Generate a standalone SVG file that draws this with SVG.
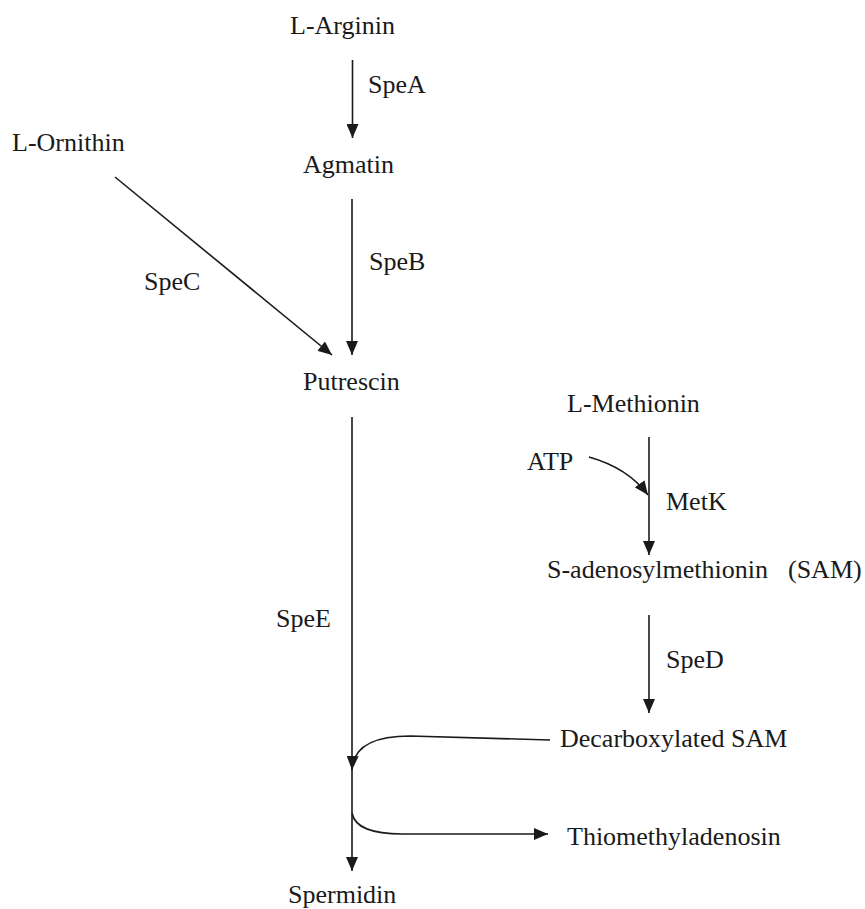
<svg xmlns="http://www.w3.org/2000/svg" width="865" height="909" viewBox="0 0 865 909">
  <style>
    text { font-family: "Liberation Serif", "Times New Roman", serif; font-size: 26px; fill: #1a1a1a; }
    .conn { fill: none; stroke: #1a1a1a; stroke-width: 1.6; marker-end: url(#arrow); }
    .plain { fill: none; stroke: #1a1a1a; stroke-width: 1.6; }
  </style>
  <defs>
    <marker id="arrow" viewBox="0 0 14 12" refX="14" refY="6" markerWidth="14" markerHeight="12" markerUnits="userSpaceOnUse" orient="auto">
      <path d="M0,0 L14,6 L0,12 z" fill="#1a1a1a"/>
    </marker>
  </defs>
  <rect width="865" height="909" fill="#ffffff"/>

  <g id="connectors">
    <path id="c-speA" class="conn" d="M352.5,60 L352.5,138"/>
    <path id="c-speB" class="conn" d="M352,199 L352,355"/>
    <path id="c-speC" class="conn" d="M115,177 L332,355"/>
    <path id="c-speE" class="conn" d="M352,417 L352,871"/>
    <path id="c-metK" class="conn" d="M649,437 L649,555"/>
    <path id="c-atp" class="conn" d="M589,457 Q628,468 648,495"/>
    <path id="c-speD" class="conn" d="M649,615 L649,713"/>
    <path id="c-dsam" class="conn" d="M550,740 L410,736 C372,736 353,748 352,770"/>
    <path id="c-mta" class="conn" d="M352,813 C355,828 372,834 402,834 L548,834"/>
  </g>

  <g id="n-arginin"><text x="290" y="34">L-Arginin</text></g>
  <g id="l-speA"><text x="368" y="93">SpeA</text></g>
  <g id="n-agmatin"><text x="303" y="173">Agmatin</text></g>
  <g id="n-ornithin"><text x="12" y="151">L-Ornithin</text></g>
  <g id="l-speB"><text x="369" y="270">SpeB</text></g>
  <g id="l-speC"><text x="144" y="290">SpeC</text></g>
  <g id="n-putrescin"><text x="303" y="390">Putrescin</text></g>
  <g id="n-methionin"><text x="567" y="412">L-Methionin</text></g>
  <g id="n-atp"><text x="527" y="470">ATP</text></g>
  <g id="l-metK"><text x="666" y="510">MetK</text></g>
  <g id="n-sam"><text x="547" y="578">S-adenosylmethionin<tspan x="788">(SAM)</tspan></text></g>
  <g id="l-speE"><text x="276" y="627">SpeE</text></g>
  <g id="l-speD"><text x="666" y="668">SpeD</text></g>
  <g id="n-dsam"><text x="560" y="747">Decarboxylated SAM</text></g>
  <g id="n-mta"><text x="567" y="845">Thiomethyladenosin</text></g>
  <g id="n-spermidin"><text x="288" y="903">Spermidin</text></g>
</svg>
